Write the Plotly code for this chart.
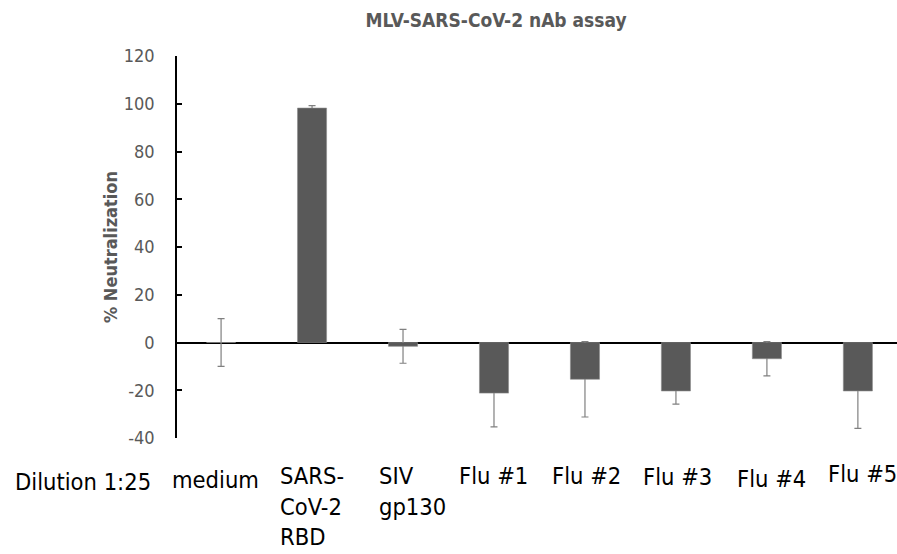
import plotly.graph_objects as go

categories = ["medium", "SARS-CoV-2 RBD", "SIV gp130", "Flu #1", "Flu #2", "Flu #3", "Flu #4", "Flu #5"]
tick_labels = ["medium", "SARS-<br>CoV-2<br>RBD", "SIV<br>gp130", "Flu #1", "Flu #2", "Flu #3", "Flu #4", "Flu #5"]
values = [0, 98.2, -1.6, -21.2, -15.4, -20.3, -6.8, -20.3]
errors = [10, 1, 7.1, 14.1, 15.8, 5.5, 7.2, 15.7]
y_ticks = [-40, -20, 0, 20, 40, 60, 80, 100, 120]
y_tick_text = ["-40", "-20", "0", "20", "40", "60", "80", "100", "120"]

# per-label placement of the category text blocks (px)
label_dx = [-6, 0, 9, 0, 2, 2, 5, 5]
label_top = [-408, -404, -404, -404, -404, -405, -407, -402]

FONT = "Liberation Sans Narrow, DejaVu Sans Condensed, Open Sans, sans-serif"
idx = list(range(len(categories)))

fig = go.Figure()
# error bars (drawn first so the bars hide the part inside them)
fig.add_trace(go.Bar(
    x=idx, y=values, width=0.32,
    marker=dict(color="rgba(0,0,0,0)", line=dict(width=0)),
    error_y=dict(type="data", array=errors, visible=True, color="#808080", thickness=1.2, width=3.5),
    hoverinfo="skip", showlegend=False,
))
fig.add_trace(go.Bar(
    x=idx, y=values, width=0.32,
    marker=dict(color="#595959", line=dict(color="#8c8c8c", width=0.6)),
    showlegend=False, hovertext=categories,
))

for i, lab in enumerate(tick_labels):
    fig.add_annotation(
        x=i, xref="x", xshift=label_dx[i], y=1, yref="paper", yshift=label_top[i], yanchor="top",
        text=lab, showarrow=False, align="left", xanchor="center",
        font=dict(family=FONT, size=23.5, color="black"),
    )
fig.add_annotation(
    x=0, xref="paper", xshift=-164, y=1, yref="paper", yshift=-410, yanchor="top",
    text="Dilution 1:25", showarrow=False, xanchor="left",
    font=dict(family=FONT, size=23.5, color="black"),
)

fig.update_layout(
    width=897, height=554,
    margin=dict(l=177, r=0, t=56, b=116),
    paper_bgcolor="white", plot_bgcolor="white",
    barmode="overlay",
    title=dict(text="<b>MLV-SARS-CoV-2 nAb assay</b>", x=0.553, xanchor="center", y=0.975, yanchor="top",
               font=dict(family=FONT, size=19, color="#595959")),
    xaxis=dict(range=[-0.4845, 7.43], showticklabels=False, showgrid=False, zeroline=False,
               showline=False, ticks=""),
    yaxis=dict(range=[-40, 120], tickvals=y_ticks, ticktext=y_tick_text, showgrid=False,
               zeroline=True, zerolinecolor="black", zerolinewidth=2,
               showline=True, linecolor="black", linewidth=1.5,
               ticks="inside", ticklen=5, tickcolor="black", tickwidth=1.5,
               tickfont=dict(family=FONT, size=18, color="#595959"), ticklabelstandoff=17,
               title=dict(text="<b>% Neutralization</b>", standoff=1,
                          font=dict(family=FONT, size=18, color="#595959"))),
)

fig.write_html("out.html")
